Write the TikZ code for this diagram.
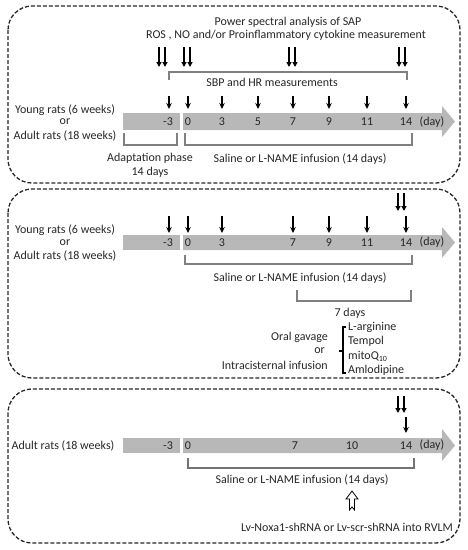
\documentclass[tikz,border=0pt]{standalone}
\usepackage{fontspec}
\setmainfont{Carlito}
\usetikzlibrary{arrows.meta}
\begin{document}
\begin{tikzpicture}[x=1pt,y=-1pt,
  panel/.style={draw=black!85,line width=1.3pt,dash pattern=on 4pt off 2pt,rounded corners=24pt},
  txt/.style={font=\fontsize{12}{14}\selectfont,inner sep=0pt,text=black!85},
  bar/.style={fill=black!28,draw=none},
  brk/.style={draw=black!50,line width=1.2pt},
  sarr/.style={line width=1.3pt,-{Stealth[length=6pt,width=5.5pt]}},
  darr/.style={line width=2pt,-{Triangle[length=5pt,width=5pt]}},
  ]
\useasboundingbox (0,0) rectangle (468,550);
% ---------- panels
\draw[panel] (8,6) rectangle (460,183);
\draw[panel] (8,189) rectangle (460,378);
\draw[panel] (8,389) rectangle (460,543);

% ---------- Panel 1
\node[txt] (p1a) at (288,22) {Power spectral analysis of SAP};
\node[txt] (p1b) at (286,35) {ROS , NO and/or Proinflammatory cytokine measurement};
\foreach \x/\n in {162/a,187/b,292/c,402/d}{
  \coordinate (d1\n s) at (\x,47); \coordinate (d1\n e) at (\x,67);
  \draw[darr] ([xshift=-3pt]d1\n s) -- ([xshift=-3pt]d1\n e);
  \draw[darr] ([xshift=3pt]d1\n s) -- ([xshift=3pt]d1\n e);
}
\coordinate (tb1) at (169,80); \coordinate (tb2) at (169,72);
\coordinate (tb3) at (407,72); \coordinate (tb4) at (407,80);
\draw[brk] (tb1) -- (tb2) -- (tb3) -- (tb4);
\node[txt] (sbp) at (272,82) {SBP and HR measurements};
\foreach \x/\n in {169/a,188/b,222/c,258/d,293/e,329/f,367/g,406/h}{
  \coordinate (s1\n s) at (\x,96); \coordinate (s1\n e) at (\x,109);
  \draw[sarr] (s1\n s) -- (s1\n e);
}
\fill[bar] (123,113) rectangle (180,130);
\fill[bar] (183,113) -- (442,113) -- (442,106) -- (455,121.5) -- (442,137) -- (442,130) -- (183,130) -- cycle;
\foreach \x/\t/\n in {168/-3/a,188/0/b,222/3/c,258/5/d,293/7/e,329/9/f,367/11/g,406/14/h}{
  \node[txt] (n1\n) at (\x,122) {\t};
}
\node[txt] (day1) at (432,122) {(day)};
\node[txt] (y1) at (65,110) {Young rats (6 weeks)};
\node[txt] (o1) at (65,122) {or};
\node[txt] (a1) at (65,136) {Adult rats (18 weeks)};
\coordinate (lb1) at (124,133); \coordinate (lb2) at (124,145);
\coordinate (lb3) at (177,145); \coordinate (lb4) at (177,133);
\draw[brk] (lb1) -- (lb2) -- (lb3) -- (lb4);
\coordinate (rb1) at (185,133); \coordinate (rb2) at (185,145);
\coordinate (rb3) at (412,145); \coordinate (rb4) at (412,133);
\draw[brk] (rb1) -- (rb2) -- (rb3) -- (rb4);
\node[txt,align=center] (adapt) at (150,165) {Adaptation phase\\[0pt]14 days};
\node[txt] (sal1) at (300,159) {Saline or L-NAME infusion (14 days)};

% ---------- Panel 2
\coordinate (d2s) at (401,193); \coordinate (d2e) at (401,211);
\draw[darr] ([xshift=-3pt]d2s) -- ([xshift=-3pt]d2e);
\draw[darr] ([xshift=3pt]d2s) -- ([xshift=3pt]d2e);
\foreach \x/\n in {169/a,188/b,222/c,293/e,329/f,367/g,406/h}{
  \coordinate (s2\n s) at (\x,216); \coordinate (s2\n e) at (\x,233);
  \draw[sarr] (s2\n s) -- (s2\n e);
}
\fill[bar] (123,235) rectangle (180,250);
\fill[bar] (183,235) -- (442,235) -- (442,227) -- (455,242.5) -- (442,258) -- (442,250) -- (183,250) -- cycle;
\foreach \x/\t/\n in {168/-3/a,188/0/b,222/3/c,293/7/e,329/9/f,367/11/g,406/14/h}{
  \node[txt] (n2\n) at (\x,242.5) {\t};
}
\node[txt] (day2) at (432,242.5) {(day)};
\node[txt] (y2) at (65,230) {Young rats (6 weeks)};
\node[txt] (o2) at (65,243) {or};
\node[txt] (a2) at (65,256) {Adult rats (18 weeks)};
\coordinate (rc1) at (185,255); \coordinate (rc2) at (185,264);
\coordinate (rc3) at (412,264); \coordinate (rc4) at (412,255);
\draw[brk] (rc1) -- (rc2) -- (rc3) -- (rc4);
\node[txt] (sal2) at (300,278) {Saline or L-NAME infusion (14 days)};
\coordinate (sd1) at (297,290); \coordinate (sd2) at (297,301);
\coordinate (sd3) at (411,301); \coordinate (sd4) at (411,290);
\draw[brk] (sd1) -- (sd2) -- (sd3) -- (sd4);
\node[txt] (sev) at (350,313) {7 days};
\node[txt,anchor=east] (og) at (328,337) {Oral gavage};
\node[txt,anchor=east] (or2) at (325,351) {or};
\node[txt,anchor=east] (ic) at (328,365) {Intracisternal infusion};
\coordinate (cb1) at (346,327); \coordinate (cb2) at (343,327);
\coordinate (cb3) at (343,373); \coordinate (cb4) at (346,373);
\coordinate (cbm) at (343,351); \coordinate (cbt) at (339,351);
\draw[line width=1.1pt] (cb1) -- (cb2) -- (cb3) -- (cb4);
\draw[line width=1.1pt] (cbm) -- (cbt);
\node[txt,anchor=west] (la) at (348,327) {L-arginine};
\node[txt,anchor=west] (te) at (348,341.5) {Tempol};
\node[txt,anchor=west] (mq) at (348,356) {mitoQ\textsubscript{10}};
\node[txt,anchor=west] (am) at (348,370) {Amlodipine};

% ---------- Panel 3
\coordinate (d3s) at (401,396); \coordinate (d3e) at (401,413);
\draw[darr] ([xshift=-3pt]d3s) -- ([xshift=-3pt]d3e);
\draw[darr] ([xshift=3pt]d3s) -- ([xshift=3pt]d3e);
\coordinate (s3s) at (406,417); \coordinate (s3e) at (406,433);
\draw[sarr] (s3s) -- (s3e);
\fill[bar] (123,438) rectangle (180,453);
\fill[bar] (183,438) -- (442,438) -- (442,429) -- (455,445.5) -- (442,461) -- (442,453) -- (183,453) -- cycle;
\foreach \x/\t/\n in {168/-3/a,188/0/b,295/7/e,352/10/f,406/14/h}{
  \node[txt] (n3\n) at (\x,445.5) {\t};
}
\node[txt] (day3) at (432,445.5) {(day)};
\node[txt] (a3) at (63,446) {Adult rats (18 weeks)};
\coordinate (re1) at (188,458); \coordinate (re2) at (188,468);
\coordinate (re3) at (414,468); \coordinate (re4) at (414,458);
\draw[brk,draw=black!55,line width=1.5pt] (re1) -- (re2) -- (re3) -- (re4);
\node[txt] (sal3) at (302,480) {Saline or L-NAME infusion (14 days)};
\node[txt] (lv) at (347,527) {Lv-Noxa1-shRNA or Lv-scr-shRNA into RVLM};
\draw[line width=0.8pt,fill=white] (349.5,510) -- (349.5,499) -- (346,499) -- (352,491) -- (358,499) -- (354.5,499) -- (354.5,510) -- (352,507) -- cycle;
\end{tikzpicture}
\end{document}
